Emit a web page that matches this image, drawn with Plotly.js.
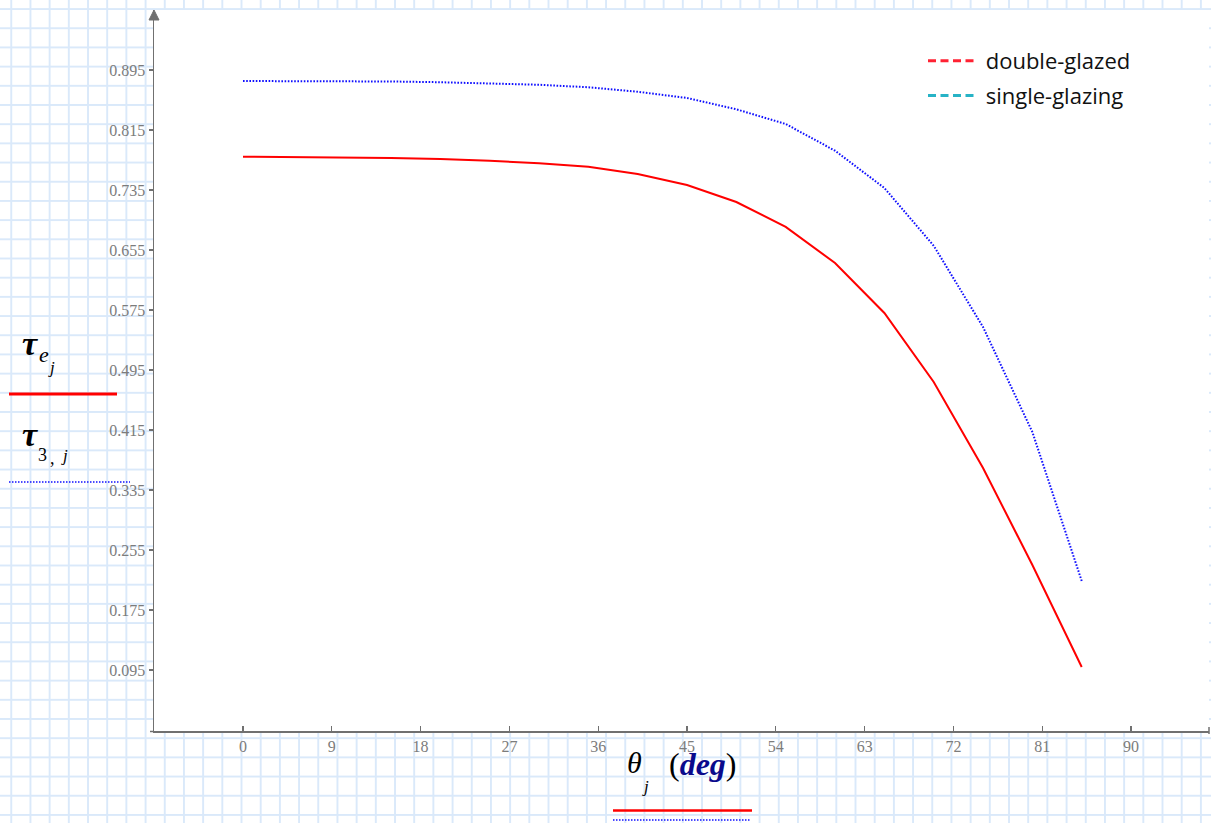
<!DOCTYPE html>
<html>
<head>
<meta charset="utf-8">
<script src="https://cdn.plot.ly/plotly-3.0.1.min.js"></script>
<style>
  html, body { margin: 0; padding: 0; width: 1211px; height: 823px; overflow: hidden; }
  body {
    background-color: #ffffff;
    background-image:
      linear-gradient(to right, #dae9fa 1.5px, transparent 1.5px),
      linear-gradient(to bottom, #dae9fa 1.5px, transparent 1.5px);
    background-size: 19.2px 19.2px;
    background-position: 10.3px 8.1px;
  }
  #chart { width: 1211px; height: 823px; }
</style>
</head>
<body>
<div id="chart"></div>
<script>
// ---- data ----
const angles = [0, 5, 10, 15, 20, 25, 30, 35, 40, 45, 50, 55, 60, 65, 70, 75, 80, 85];
const tauDouble = [0.7794, 0.7790, 0.7786, 0.7777, 0.7763, 0.7740, 0.7706, 0.7660, 0.7563, 0.7417, 0.7190, 0.6857, 0.6377, 0.5710, 0.4790, 0.3643, 0.2350, 0.0990];
const tauSingle = [0.8803, 0.8803, 0.8800, 0.8797, 0.8787, 0.8773, 0.8753, 0.8720, 0.8660, 0.8577, 0.8426, 0.8230, 0.7874, 0.7377, 0.6607, 0.5523, 0.4123, 0.2137];
const legendNames = ["double-glazed", "single-glazing"];
const xTickVals = [0, 9, 18, 27, 36, 45, 54, 63, 72, 81, 90];
const yTickVals = [0.095, 0.175, 0.255, 0.335, 0.415, 0.495, 0.575, 0.655, 0.735, 0.815, 0.895];

// ---- layout geometry helpers (pixel -> paper fraction) ----
const W = 1211, H = 823;
const M = { l: 154, r: 2, t: 10, b: 92 };
const PW = W - M.l - M.r, PH = H - M.t - M.b;
const px = v => (v - M.l) / PW;
const py = v => (H - M.b - v) / PH;

const axisCol = '#707070';
const tickFont = { family: 'Liberation Serif, DejaVu Serif, serif', size: 16, color: '#7c7c7c' };
const mathFont = 'Liberation Serif, DejaVu Serif, serif';

const traces = [
  { x: angles, y: tauDouble, mode: 'lines', line: { color: '#ff0000', width: 2 }, showlegend: false, hoverinfo: 'skip' },
  { x: angles, y: tauSingle, mode: 'lines', line: { color: '#1010ff', width: 2, dash: '1.6px,1.6px' }, showlegend: false, hoverinfo: 'skip' },
  { x: [null], y: [null], mode: 'lines', name: '\u00a0' + legendNames[0], legendgroup: 'a', line: { color: '#ff2233', width: 3, dash: '8px,4.5px' } },
  { x: [null], y: [null], mode: 'lines', name: '\u00a0' + legendNames[1], legendgroup: 'b', line: { color: '#27b3c6', width: 3, dash: '8px,4.5px' } }
];

function ann(text, x, y, size, extra) {
  return Object.assign({ text: text, x: px(x), y: py(y), xref: 'paper', yref: 'paper', showarrow: false,
    xanchor: 'center', yanchor: 'middle', font: { family: mathFont, size: size, color: '#000000' } }, extra || {});
}

const annotations = [
  ann('<b><i>τ</i></b>', 30, 343, 34),
  ann('<i>e</i>', 44, 354, 22),
  ann('<i>j</i>', 51, 367, 17),
  ann('<b><i>τ</i></b>', 30, 435, 34),
  ann('3', 42, 455, 18),
  ann(',', 52, 458, 18),
  ann('<i>j</i>', 64, 456, 17),
  ann('<i>θ</i>', 634, 762, 30),
  ann('<i>j</i>', 645, 786, 17),
  ann('(<b><i><span style="color:#0a0a8c">deg</span></i></b>)', 703, 764, 32)
];

function seg(x0, y0, x1, y1, color, width, dash) {
  return { type: 'line', xref: 'paper', yref: 'paper', x0: px(x0), y0: py(y0), x1: px(x1), y1: py(y1),
    line: { color: color, width: width, dash: dash || 'solid' } };
}

const shapes = [
  seg(9, 394, 117, 394, '#ff0000', 3),
  seg(9, 482, 130, 482, '#1010ff', 1.5, '1.5px,1.5px'),
  seg(613, 810.5, 752, 810.5, '#ff0000', 2.5),
  seg(613, 820, 751, 820, '#1010ff', 1.5, '1.5px,1.5px'),
  // arrow head on top of the y axis
  { type: 'path', xref: 'paper', yref: 'paper', xsizemode: 'pixel', ysizemode: 'pixel',
    xanchor: 0, yanchor: 1, path: 'M-5,-10 L5,-10 L0,0 Z',
    fillcolor: axisCol, line: { color: axisCol, width: 1 } },
  // small ticks at the ends of the x axis
  seg(1209, 727, 1209, 734, axisCol, 1.5),
  seg(150, 731.5, 154, 731.5, axisCol, 1.5)
];

const layout = {
  width: W, height: H,
  margin: M,
  paper_bgcolor: 'rgba(0,0,0,0)',
  plot_bgcolor: '#ffffff',
  showlegend: true,
  legend: {
    x: px(923), y: py(40), xanchor: 'left', yanchor: 'top',
    bgcolor: 'rgba(255,255,255,0)', borderwidth: 0,
    font: { family: 'Open Sans, Noto Sans, sans-serif', size: 22, color: '#111111' },
    tracegroupgap: 3, itemwidth: 47
  },
  xaxis: {
    range: [-9.02, 97.9], tickmode: 'array', tickvals: xTickVals,
    showgrid: false, zeroline: false, showline: true, linecolor: axisCol, linewidth: 1.5,
    ticks: 'inside', ticklen: 5, tickwidth: 1.2, tickcolor: axisCol, tickfont: tickFont,
    fixedrange: true
  },
  yaxis: {
    range: [0.01367, 0.975], tickmode: 'array', tickvals: yTickVals, tickformat: '.3f',
    showgrid: false, zeroline: false, showline: true, linecolor: axisCol, linewidth: 1.5,
    ticks: 'outside', ticklen: 4, tickwidth: 1.2, tickcolor: axisCol, tickfont: tickFont,
    fixedrange: true
  },
  annotations: annotations,
  shapes: shapes
};

Plotly.newPlot('chart', traces, layout, { displayModeBar: false, staticPlot: true });
</script>
</body>
</html>
